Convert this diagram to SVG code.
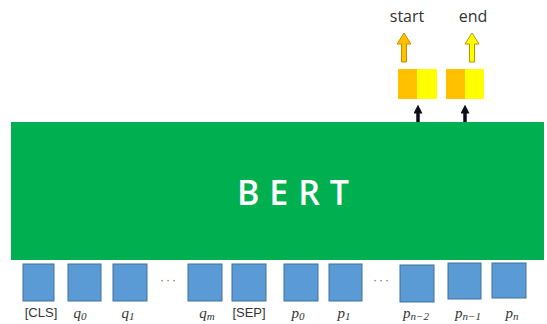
<svg xmlns="http://www.w3.org/2000/svg" width="547" height="324" viewBox="0 0 547 324">
<style>
.tok{fill:#5B9BD5;stroke:#41719C;stroke-width:1}
.lbl{font-family:"Liberation Sans",Arial,sans-serif;font-size:13px;fill:#333;text-anchor:middle}
.m{font-family:"Liberation Serif","Times New Roman",serif;font-style:italic;font-size:15px;fill:#333;text-anchor:middle}
.sub{font-size:11px}
.dots{font-family:"Liberation Sans",Arial,sans-serif;font-size:12px;fill:#666;text-anchor:middle;letter-spacing:2px}
.out{font-family:"Open Sans","Liberation Sans",sans-serif;font-size:16px;fill:#333;text-anchor:middle}
</style>
<defs>
<marker id="ah" viewBox="0 0 10 10" refX="4" refY="5" markerWidth="9" markerHeight="9" markerUnits="userSpaceOnUse" orient="auto">
<path d="M0,0 L10,5 L0,10 z" fill="#0D0D1A"/>
</marker>
</defs>
<rect width="547" height="324" fill="#fff"/>
<g id="bert">
<rect x="11" y="122" width="533" height="138" fill="#00B050"/>
<text x="293" y="205" font-family="'Open Sans','Liberation Sans',sans-serif" font-size="34" font-weight="600" fill="#fff" text-anchor="middle" textLength="112" lengthAdjust="spacing">BERT</text>
</g>
<g id="tokens">
<g id="t-cls"><rect class="tok" x="23" y="264" width="31" height="37"/><text class="lbl" x="41" y="317">[CLS]</text></g>
<g id="t-q0"><rect class="tok" x="68" y="264" width="33" height="37"/><text class="m" x="80" y="318">q<tspan class="sub" dy="2">0</tspan></text></g>
<g id="t-q1"><rect class="tok" x="113" y="264" width="34" height="37"/><text class="m" x="128" y="318">q<tspan class="sub" dy="2">1</tspan></text></g>
<text class="dots" x="169" y="284">···</text>
<g id="t-qm"><rect class="tok" x="188" y="264" width="34" height="37"/><text class="m" x="207" y="318">q<tspan class="sub" dy="2">m</tspan></text></g>
<g id="t-sep"><rect class="tok" x="232" y="264" width="34" height="37"/><text class="lbl" x="249" y="317">[SEP]</text></g>
<g id="t-p0"><rect class="tok" x="284" y="264" width="34" height="37"/><text class="m" x="298" y="318">p<tspan class="sub" dy="2">0</tspan></text></g>
<g id="t-p1"><rect class="tok" x="329" y="264" width="33" height="37"/><text class="m" x="344" y="318">p<tspan class="sub" dy="2">1</tspan></text></g>
<text class="dots" x="382" y="284">···</text>
<g id="t-pn2"><rect class="tok" x="400" y="265" width="34" height="37"/><text class="m" x="416" y="318">p<tspan class="sub" dy="2">n−2</tspan></text></g>
<g id="t-pn1"><rect class="tok" x="448" y="263" width="33" height="36"/><text class="m" x="468" y="318">p<tspan class="sub" dy="2">n−1</tspan></text></g>
<g id="t-pn"><rect class="tok" x="492" y="263" width="34" height="35"/><text class="m" x="512" y="318">p<tspan class="sub" dy="2">n</tspan></text></g>
</g>
<g id="start-out">
<rect x="398" y="69" width="19" height="30" fill="#FFC000"/>
<rect x="417" y="69" width="20" height="30" fill="#FFFF00"/>
<path d="M404,33 L411,44 L406.5,44 L406.5,62 L401.5,62 L401.5,44 L397,44 Z" fill="#FFC000" stroke="#BF8F00" stroke-width="1"/>
<text class="out" x="407" y="22">start</text>
</g>
<g id="end-out">
<rect x="446" y="69" width="19" height="30" fill="#FFC000"/>
<rect x="465" y="69" width="19" height="30" fill="#FFFF00"/>
<path d="M472,33 L479,44 L474.5,44 L474.5,62 L469.5,62 L469.5,44 L465,44 Z" fill="#FFFF00" stroke="#BF8F00" stroke-width="1"/>
<text class="out" x="473" y="22">end</text>
</g>
<g id="connectors" stroke="#0D0D1A" stroke-width="3.5" fill="none">
<line x1="418" y1="122" x2="418" y2="110" marker-end="url(#ah)"/>
<line x1="465" y1="122" x2="465" y2="110" marker-end="url(#ah)"/>
</g>
</svg>
